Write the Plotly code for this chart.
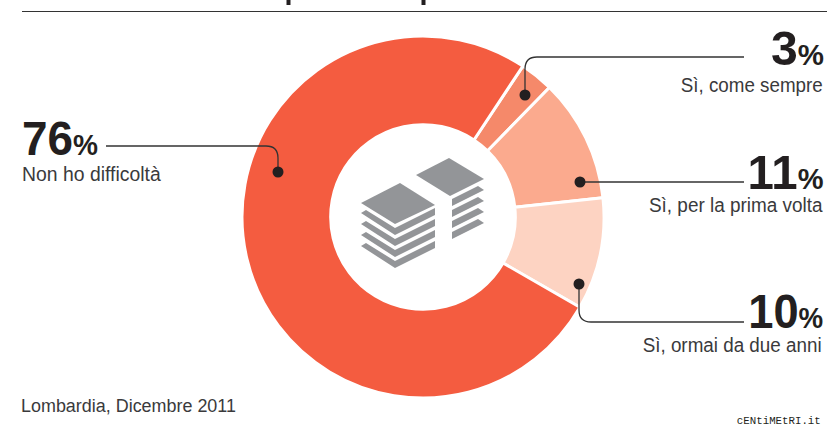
import json
import plotly.graph_objects as go

W, H = 827, 429
categories = ["Sì, come sempre", "Sì, per la prima volta", "Sì, ormai da due anni", "Non ho difficoltà"]
values = [3, 11, 10, 76]
colors = ["#F5896A", "#FBAA8E", "#FDD3C2", "#F45C40"]
footer = "Lombardia, Dicembre 2011"
credit = "cENtiMEtRI.it"
FONT = "Liberation Sans, Arial, sans-serif"
INK = "#231F20"
TXT = "#3a3a3c"
GREY = "#939598"


def X(p):
    return p / W


def Y(p):
    return 1 - p / H


def path(points):
    return "M" + " L".join(f"{X(a):.5f},{Y(b):.5f}" for a, b in points) + " Z"


fig = go.Figure(go.Pie(
    labels=categories, values=values, sort=False, direction="clockwise", rotation=33.5,
    hole=0.51, textinfo="none", hoverinfo="label+percent",
    marker=dict(colors=colors, line=dict(color="white", width=3)),
    domain=dict(x=[X(242), X(604)], y=[Y(398), Y(36)]),
    showlegend=False,
))

shapes = []
shapes.append(dict(type="line", xref="paper", yref="paper", x0=X(22), x1=X(827), y0=Y(11.5), y1=Y(11.5),
                   line=dict(color="#333", width=1)))
for sx in (288.5, 423.5):
    shapes.append(dict(type="rect", xref="paper", yref="paper", x0=X(sx - 2), x1=X(sx + 2), y0=Y(0), y1=Y(5),
                       line=dict(width=0), fillcolor=INK))


def leader(d):
    shapes.append(dict(type="path", xref="paper", yref="paper", path=d, line=dict(color="#333", width=1.3)))


def curve(p0, p1, c, p2, p3):
    return (f"M{X(p0[0]):.5f},{Y(p0[1]):.5f} L{X(p1[0]):.5f},{Y(p1[1]):.5f} "
            f"Q{X(c[0]):.5f},{Y(c[1]):.5f} {X(p2[0]):.5f},{Y(p2[1]):.5f} L{X(p3[0]):.5f},{Y(p3[1]):.5f}")


leader(curve((106, 146), (266, 146), (278, 146), (278, 158), (278, 172)))
leader(curve((744, 57), (537, 57), (525, 57), (525, 69), (525, 95)))
leader(f"M{X(581):.5f},{Y(182):.5f} L{X(744):.5f},{Y(182):.5f}")
leader(curve((744, 322), (591, 322), (579, 322), (579, 310), (579, 284)))

for cx, cy in [(278, 172), (525, 95), (580, 182), (579, 284)]:
    shapes.append(dict(type="circle", xref="paper", yref="paper", x0=X(cx - 5.5), x1=X(cx + 5.5),
                       y0=Y(cy + 5.5), y1=Y(cy - 5.5), fillcolor=INK, line=dict(width=0)))


def icon(pts):
    shapes.append(dict(type="path", xref="paper", yref="paper", path=path(pts), fillcolor=GREY, line=dict(width=0)))


icon([(361, 203), (400, 183), (435, 205), (395, 224)])
for dy in (0, 11, 22, 33):
    icon([(361, 213 + dy), (366, 210 + dy), (395, 228 + dy), (435, 208 + dy), (435, 215 + dy), (395, 235 + dy)])
icon([(416, 175), (449, 158), (484, 179), (450, 196)])
for dy in (0, 11, 22, 33):
    icon([(452, 199 + dy), (478, 186 + dy), (484, 190 + dy), (452, 206 + dy)])

fig.update_layout(
    width=W, height=H, margin=dict(l=0, r=0, t=0, b=0), paper_bgcolor="white",
    shapes=shapes, showlegend=False, font=dict(family=FONT),
)

annotations = []
fit = []  # target width of each text, applied after drawing to get the condensed look


def add(text, x, y, anchor, width, size, color, family=FONT):
    nudge = -2 if anchor == "left" else 2  # annotation box padding
    annotations.append(dict(text=text, x=X(x + nudge), y=Y(y), xref="paper", yref="paper", xanchor=anchor,
                            yanchor="middle", showarrow=False, font=dict(family=family, size=size, color=color)))
    fit.append(dict(w=width, a=anchor))


def big(text, x, y, anchor, width):
    add(f"<b>{text}</b><b style='font-size:30px'>%</b>", x, y, anchor, width, 49, INK)


big(f"{values[3]}", 22, 138, "left", 76)
add(categories[3], 22, 173, "left", 139, 21, TXT)
big(f"{values[0]}", 824, 48, "right", 53)
add(categories[0], 823, 84, "right", 142, 21, TXT)
big(f"{values[1]}", 824, 172, "right", 76)
add(categories[1], 823, 205, "right", 174, 21, TXT)
big(f"{values[2]}", 823, 311, "right", 75)
add(categories[2], 822, 344, "right", 179, 21, TXT)
add(footer, 21, 405, "left", 215, 19, TXT)
add(credit, 821, 421, "right", 84, 11, INK, "Liberation Mono, DejaVu Sans Mono, monospace")
fig.update_layout(annotations=annotations)

post = """
document.body.style.margin = '0';
var fit = %s;
document.querySelectorAll('.annotation').forEach(function (g) {
  var i = +g.getAttribute('data-index');
  var t = g.querySelector('text.annotation-text');
  if (!t || !fit[i]) return;
  var b = t.getBBox();
  var s = fit[i].w / b.width;
  var a = fit[i].a === 'left' ? b.x : b.x + b.width;
  t.setAttribute('transform', 'translate(' + a + ' 0) scale(' + s + ' 1) translate(' + (-a) + ' 0)');
});
""" % json.dumps(fit)
fig.write_html("out.html", post_script=post, config=dict(displayModeBar=False))
